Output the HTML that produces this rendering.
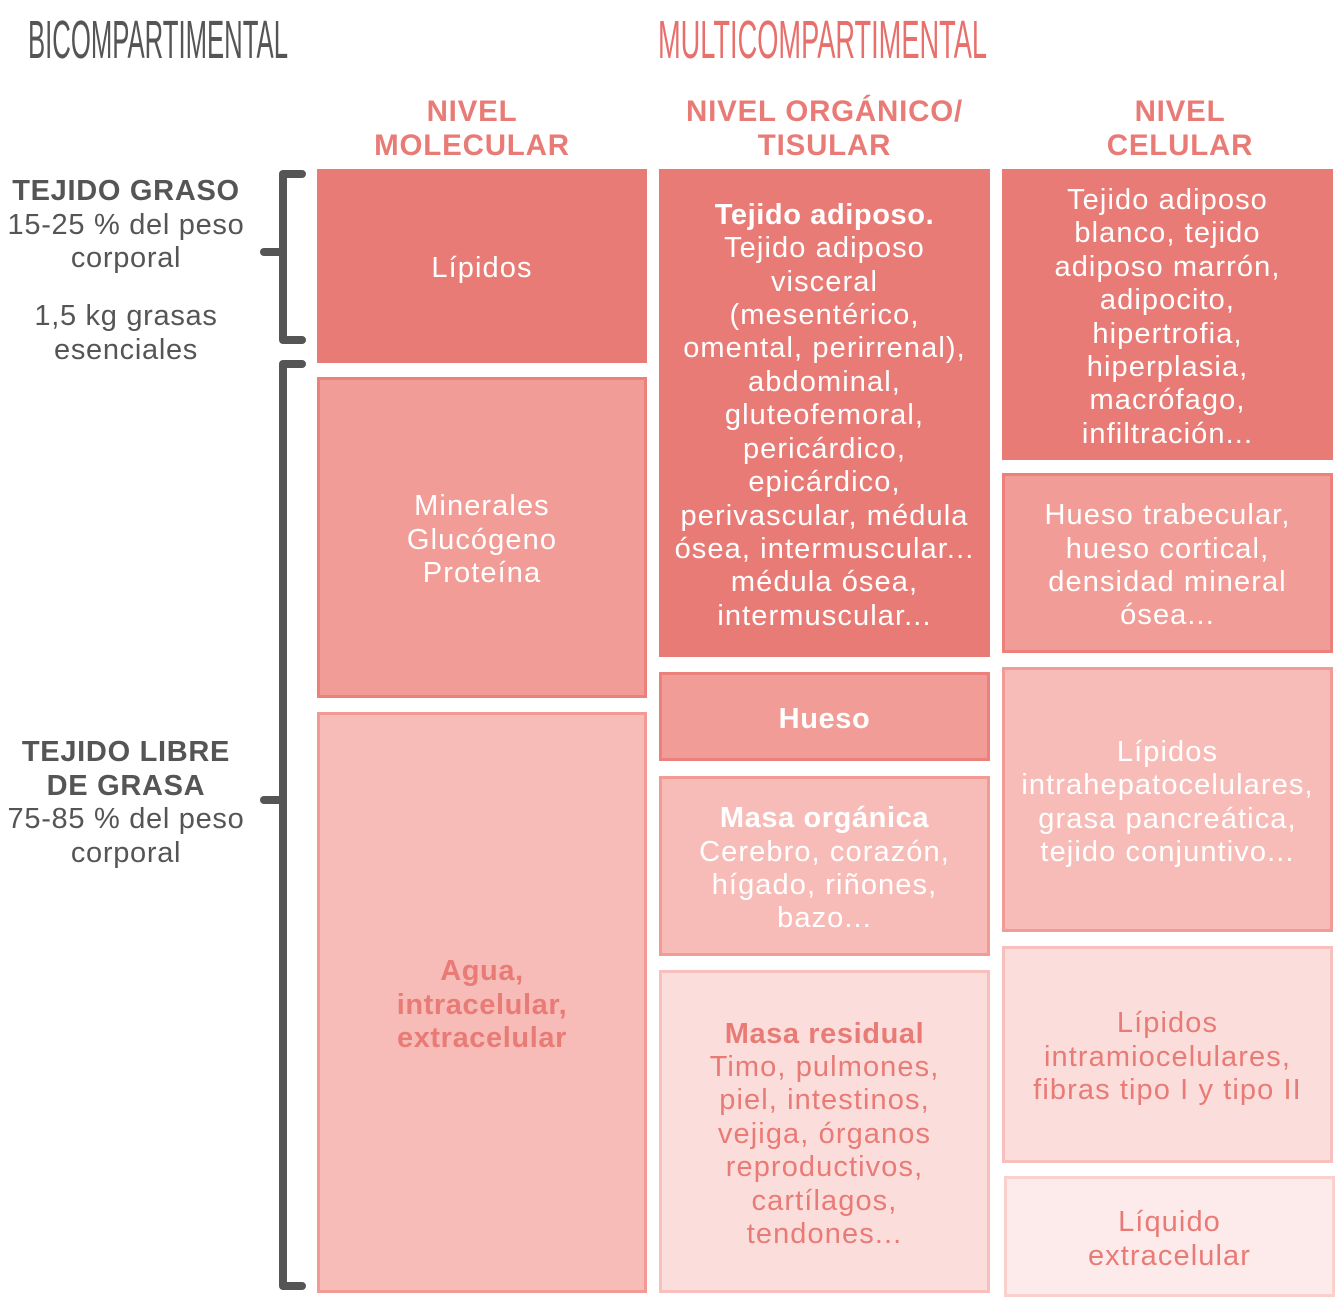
<!DOCTYPE html>
<html><head><meta charset="utf-8"><style>
body{margin:0;background:#fff;width:1335px;height:1297px;position:relative;overflow:hidden;font-family:"Liberation Sans",sans-serif;}
.b{position:absolute;box-sizing:border-box;display:flex;align-items:center;justify-content:center;text-align:center;font-size:29px;letter-spacing:1.1px;line-height:33.4px;white-space:nowrap;color:#fff;padding-top:6px;}
.b b{letter-spacing:0.6px;}
.d{background:#e97b76;}
.m{background:#f19c96;border:3px solid #ec817c;}
.l{background:#f7bcb8;border:3px solid #f29a94;}
.x{background:#fbdedb;border:3px solid #f8c0bc;color:#e97b76;}
.y{background:#fdeaea;border:3px solid #fad0cd;color:#e97b76;}
.h{position:absolute;text-align:center;font-weight:bold;color:#e97b76;font-size:29.5px;letter-spacing:0.8px;line-height:33.5px;white-space:nowrap;}
.t{position:absolute;text-align:center;color:#555;font-size:29px;letter-spacing:0.7px;line-height:33.5px;white-space:nowrap;width:252px;left:0;}
</style></head><body>
<svg width="1335" height="1297" style="position:absolute;left:0;top:0">
<text x="28" y="58" font-family="Liberation Sans Narrow, Liberation Sans, sans-serif" font-size="54" fill="#555" textLength="260" lengthAdjust="spacingAndGlyphs">BICOMPARTIMENTAL</text>
<text x="658" y="58" font-family="Liberation Sans Narrow, Liberation Sans, sans-serif" font-size="54" fill="#e8706c" textLength="329" lengthAdjust="spacingAndGlyphs">MULTICOMPARTIMENTAL</text>
<g fill="none" stroke="#555" stroke-width="8" stroke-linecap="round" stroke-linejoin="round">
<path d="M302 174 H283 V340 H302"/>
<path d="M264 252 H283"/>
<path d="M302 364 H283 V1286 H302"/>
<path d="M264 800 H283"/>
</g>
</svg>
<div class="h" style="left:317px;width:310px;top:95px">NIVEL<br>MOLECULAR</div>
<div class="h" style="left:659px;width:331px;top:95px">NIVEL ORGÁNICO/<br>TISULAR</div>
<div class="h" style="left:1020px;width:320px;top:95px">NIVEL<br>CELULAR</div>

<div class="t" style="top:175px"><b>TEJIDO GRASO</b><br>15-25 % del peso<br>corporal</div>
<div class="t" style="top:300px">1,5 kg grasas<br>esenciales</div>
<div class="t" style="top:736px"><b>TEJIDO LIBRE<br>DE GRASA</b><br>75-85 % del peso<br>corporal</div>

<div class="b d" style="left:317px;top:169px;width:330px;height:194px">Lípidos</div>
<div class="b m" style="left:317px;top:377px;width:330px;height:321px">Minerales<br>Glucógeno<br>Proteína</div>
<div class="b l" style="left:317px;top:712px;width:330px;height:581px;color:#e97b76;font-weight:bold;letter-spacing:0.6px">Agua,<br>intracelular,<br>extracelular</div>

<div class="b d" style="left:659px;top:169px;width:331px;height:488px"><div><b>Tejido adiposo.</b><br>Tejido adiposo<br>visceral<br>(mesentérico,<br>omental, perirrenal),<br>abdominal,<br>gluteofemoral,<br>pericárdico,<br>epicárdico,<br>perivascular, médula<br>ósea, intermuscular...<br>médula ósea,<br>intermuscular...</div></div>
<div class="b m" style="left:659px;top:672px;width:331px;height:89px;font-weight:bold;letter-spacing:0.6px">Hueso</div>
<div class="b l" style="left:659px;top:776px;width:331px;height:180px"><div><b>Masa orgánica</b><br>Cerebro, corazón,<br>hígado, riñones,<br>bazo...</div></div>
<div class="b x" style="left:659px;top:970px;width:331px;height:323px"><div><b>Masa residual</b><br>Timo, pulmones,<br>piel, intestinos,<br>vejiga, órganos<br>reproductivos,<br>cartílagos,<br>tendones...</div></div>

<div class="b d" style="left:1002px;top:169px;width:331px;height:291px">Tejido adiposo<br>blanco, tejido<br>adiposo marrón,<br>adipocito,<br>hipertrofia,<br>hiperplasia,<br>macrófago,<br>infiltración...</div>
<div class="b m" style="left:1002px;top:473px;width:331px;height:180px">Hueso trabecular,<br>hueso cortical,<br>densidad mineral<br>ósea...</div>
<div class="b l" style="left:1002px;top:667px;width:331px;height:265px">Lípidos<br>intrahepatocelulares,<br>grasa pancreática,<br>tejido conjuntivo...</div>
<div class="b x" style="left:1002px;top:946px;width:331px;height:217px">Lípidos<br>intramiocelulares,<br>fibras tipo I y tipo II</div>
<div class="b y" style="left:1004px;top:1176px;width:331px;height:121px">Líquido<br>extracelular</div>
</body></html>
